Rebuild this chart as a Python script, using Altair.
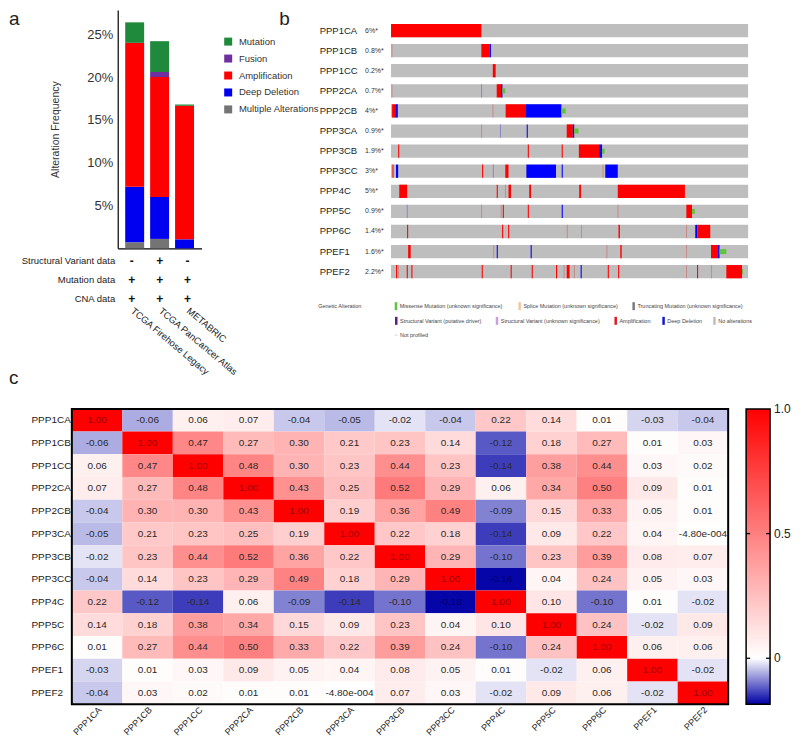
import altair as alt
import pandas as pd

FONT = "Liberation Sans"

# ---------------- Panel a data ----------------
datasets = ["TCGA Firehose Legacy", "TCGA PanCancer Atlas", "METABRIC"]
stack_types = ["Multiple Alterations", "Deep Deletion", "Amplification", "Fusion", "Mutation"]
freq_multiple = [0.7, 1.1, 0.0]
freq_deep_deletion = [6.5, 4.9, 1.05]
freq_amplification = [16.8, 14.0, 15.6]
freq_fusion = [0.0, 0.6, 0.0]
freq_mutation = [2.4, 3.6, 0.15]
legend_types = ["Mutation", "Fusion", "Amplification", "Deep Deletion", "Multiple Alterations"]
legend_colors = ["#1f8a3b", "#6f2f9f", "#ff0000", "#0000f0", "#747474"]

table_rows = ["Structural Variant data", "Mutation data", "CNA data"]
sv_data = ["-", "+", "-"]
mutation_data = ["+", "+", "+"]
cna_data = ["+", "+", "+"]

# ---------------- Panel b data ----------------
onco_genes = ["PPP1CA", "PPP1CB", "PPP1CC", "PPP2CA", "PPP2CB", "PPP3CA", "PPP3CB",
              "PPP3CC", "PPP4C", "PPP5C", "PPP6C", "PPEF1", "PPEF2"]
onco_pct = ["6%*", "0.8%*", "0.2%*", "0.7%*", "4%*", "0.9%*", "1.9%*", "3%*", "5%*",
            "0.9%*", "1.4%*", "1.6%*", "2.2%*"]
# alteration segments per gene: (start sample, end sample, type); 1000 samples per track
# A = amplification, D = deep deletion, M = missense mutation, a / d = faint (other) marks
alt_PPP1CA = [(0, 253, "A")]
alt_PPP1CB = [(1, 4, "a"), (253, 276, "A"), (276, 280, "D")]
alt_PPP1CC = [(285, 293, "A")]
alt_PPP2CA = [(1, 4, "a"), (252, 255, "d"), (296, 308, "A"), (308, 312, "D"), (312, 320, "M")]
alt_PPP2CB = [(3, 12, "A"), (12, 19, "D"), (284, 287, "a"), (321, 378, "A"), (378, 477, "D"),
              (477, 489, "M")]
alt_PPP3CA = [(252, 255, "a"), (305, 308, "d"), (380, 383, "D"), (492, 509, "A"), (509, 513, "D"),
              (513, 525, "M")]
alt_PPP3CB = [(20, 23, "A"), (383, 386, "A"), (478, 481, "A"), (526, 583, "A"), (583, 591, "D"),
              (591, 598, "M")]
alt_PPP3CC = [(4, 7, "A"), (14, 20, "D"), (255, 258, "A"), (285, 288, "d"), (320, 329, "A"),
              (379, 462, "D"), (478, 481, "D"), (592, 595, "a"), (600, 635, "D")]
alt_PPP4C = [(23, 45, "A"), (296, 299, "A"), (319, 322, "a"), (329, 336, "A"), (387, 392, "A"),
             (527, 532, "A"), (635, 823, "A")]
alt_PPP5C = [(44, 47, "d"), (252, 255, "a"), (307, 310, "a"), (313, 316, "A"), (383, 386, "A"),
             (478, 481, "D"), (634, 637, "a"), (827, 843, "A"), (843, 851, "M")]
alt_PPP6C = [(45, 48, "A"), (311, 314, "A"), (328, 331, "A"), (492, 495, "a"), (532, 535, "a"),
             (637, 641, "A"), (826, 829, "a"), (852, 858, "D"), (858, 894, "A")]
alt_PPEF1 = [(48, 55, "A"), (286, 289, "a"), (296, 299, "D"), (391, 394, "D"), (603, 606, "a"),
             (642, 646, "A"), (826, 829, "a"), (896, 916, "A"), (916, 920, "D"), (920, 939, "M")]
alt_PPEF2 = [(14, 17, "A"), (19, 22, "a"), (44, 47, "A"), (57, 60, "A"), (254, 257, "A"),
             (335, 338, "A"), (394, 397, "A"), (462, 465, "A"), (483, 486, "a"), (492, 500, "A"),
             (512, 515, "a"), (531, 534, "D"), (607, 610, "A"), (636, 639, "A"), (826, 829, "a"),
             (857, 860, "A"), (896, 899, "a"), (939, 983, "A"), (983, 986, "M")]
onco_alts = [alt_PPP1CA, alt_PPP1CB, alt_PPP1CC, alt_PPP2CA, alt_PPP2CB, alt_PPP3CA, alt_PPP3CB,
             alt_PPP3CC, alt_PPP4C, alt_PPP5C, alt_PPP6C, alt_PPEF1, alt_PPEF2]
onco_types = ["A", "D", "a", "d"]
onco_type_colors = ["#ff0000", "#0000ff", "#c98a8a", "#8a8ac9"]

onco_legend_labels = ["Missense Mutation (unknown significance)", "Splice Mutation (unknown significance)",
                      "Truncating Mutation (unknown significance)", "Structural Variant (putative driver)",
                      "Structural Variant (unknown significance)", "Amplification", "Deep Deletion",
                      "No alterations", "Not profiled"]
onco_legend_colors = ["#5cc43e", "#f0c89a", "#7a7a7a", "#5b1d8f", "#c9a0dc", "#e31a1c",
                      "#1515d0", "#bebebe", "#d8d8d8"]

# ---------------- Panel c data ----------------
heat_genes = onco_genes
corr = [
    [1.00, -0.06, 0.06, 0.07, -0.04, -0.05, -0.02, -0.04, 0.22, 0.14, 0.01, -0.03, -0.04],
    [-0.06, 1.00, 0.47, 0.27, 0.30, 0.21, 0.23, 0.14, -0.12, 0.18, 0.27, 0.01, 0.03],
    [0.06, 0.47, 1.00, 0.48, 0.30, 0.23, 0.44, 0.23, -0.14, 0.38, 0.44, 0.03, 0.02],
    [0.07, 0.27, 0.48, 1.00, 0.43, 0.25, 0.52, 0.29, 0.06, 0.34, 0.50, 0.09, 0.01],
    [-0.04, 0.30, 0.30, 0.43, 1.00, 0.19, 0.36, 0.49, -0.09, 0.15, 0.33, 0.05, 0.01],
    [-0.05, 0.21, 0.23, 0.25, 0.19, 1.00, 0.22, 0.18, -0.14, 0.09, 0.22, 0.04, -0.00048],
    [-0.02, 0.23, 0.44, 0.52, 0.36, 0.22, 1.00, 0.29, -0.10, 0.23, 0.39, 0.08, 0.07],
    [-0.04, 0.14, 0.23, 0.29, 0.49, 0.18, 0.29, 1.00, -0.18, 0.04, 0.24, 0.05, 0.03],
    [0.22, -0.12, -0.14, 0.06, -0.09, -0.14, -0.10, -0.18, 1.00, 0.10, -0.10, 0.01, -0.02],
    [0.14, 0.18, 0.38, 0.34, 0.15, 0.09, 0.23, 0.04, 0.10, 1.00, 0.24, -0.02, 0.09],
    [0.01, 0.27, 0.44, 0.50, 0.33, 0.22, 0.39, 0.24, -0.10, 0.24, 1.00, 0.06, 0.06],
    [-0.03, 0.01, 0.03, 0.09, 0.05, 0.04, 0.08, 0.05, 0.01, -0.02, 0.06, 1.00, -0.02],
    [-0.04, 0.03, 0.02, 0.01, 0.01, -0.00048, 0.07, 0.03, -0.02, 0.09, 0.06, -0.02, 1.00],
]
colorbar_ticks = [0, 0.5, 1.0]
colorbar_tick_labels = ["0", "0.5", "1.0"]
colorbar_marks = [0, 0.5]
colorbar_domain = [-0.184, 0, 1]
colorbar_colors = ["#0000a6", "#ffffff", "#ff0000"]

# ================= Panel a =================
series = [freq_multiple, freq_deep_deletion, freq_amplification, freq_fusion, freq_mutation]
bar_rows = []
for i, d in enumerate(datasets):
    for k, t in enumerate(stack_types):
        bar_rows.append({"dataset": d, "type": t, "freq": series[k][i] / 100, "order": k})
bar_df = pd.DataFrame(bar_rows)

x_band = alt.Scale(domain=datasets, paddingInner=0.24, paddingOuter=0.3)

bars = alt.Chart(bar_df).mark_bar().encode(
    x=alt.X("dataset:N", scale=x_band,
            axis=alt.Axis(labels=False, ticks=False, title=None, domainColor="#000", domainWidth=1.2)),
    y=alt.Y("freq:Q", stack="zero", scale=alt.Scale(domain=[0, 0.2785], nice=False),
            axis=alt.Axis(values=[0.05, 0.10, 0.15, 0.20, 0.25], format=".0%", grid=False,
                          ticks=False, domainColor="#000", domainWidth=1.2, labelFontSize=13,
                          labelColor="#333", labelPadding=5, title="Alteration Frequency",
                          titleFontSize=10.5, titleFontWeight="normal", titleColor="#333",
                          titlePadding=26)),
    color=alt.Color("type:N", scale=alt.Scale(domain=legend_types, range=legend_colors),
                    legend=alt.Legend(title=None, orient="none", legendX=106, legendY=27,
                                      symbolType="square", symbolSize=64, symbolStrokeWidth=0,
                                      labelFontSize=9.5, labelColor="#333", rowPadding=6,
                                      labelOffset=6, padding=0)),
    order=alt.Order("order:Q"),
)

def letter(ch, px, py):
    return alt.Chart(pd.DataFrame({"t": [ch]})).mark_text(
        align="left", baseline="top", fontSize=19, color="#222").encode(
        x=alt.value(px), y=alt.value(py), text="t:N")

bar_panel = alt.layer(bars, letter("a", -109, 0), letter("b", 162, 0)).properties(width=84, height=239)

tab_rows = []
for r, signs in zip(table_rows, [sv_data, mutation_data, cna_data]):
    for d, s in zip(datasets, signs):
        tab_rows.append({"row": r, "dataset": d, "sign": s})
tab_df = pd.DataFrame(tab_rows)

table_text = alt.Chart(tab_df).mark_text(fontSize=12, fontWeight="bold", color="#111").encode(
    x=alt.X("dataset:N", scale=x_band,
            axis=alt.Axis(orient="bottom", labelAngle=40, labelAlign="left", labelBaseline="middle",
                          labelPadding=1, labelFontSize=9.5, labelColor="#222", domain=False,
                          ticks=False, title=None)),
    y=alt.Y("row:N", sort=table_rows, scale=alt.Scale(paddingInner=0, paddingOuter=0),
            axis=alt.Axis(domain=False, ticks=False, title=None, labelFontSize=9.5,
                          labelPadding=3, labelColor="#222")),
    text="sign:N",
)
table = alt.layer(table_text, letter("c", -109, 118)).properties(width=84, height=57)

panel_a = alt.vconcat(bar_panel, table, spacing=1)

# ================= Panel b =================
track_df = pd.DataFrame({"gene": onco_genes, "start": [0] * len(onco_genes),
                         "end": [1000] * len(onco_genes), "pct": onco_pct})
seg_rows = []
for g, segs in zip(onco_genes, onco_alts):
    for s, e, t in segs:
        seg_rows.append({"gene": g, "start": s, "end": e, "type": t})
seg_df = pd.DataFrame(seg_rows)

y_onco = alt.Y("gene:N", sort=onco_genes,
               scale=alt.Scale(range=[10.6, 272.5], paddingInner=0.34, paddingOuter=0.17),
               axis=alt.Axis(labelAlign="left", labelPadding=72, domain=False, ticks=False,
                             title=None, labelFontSize=9.5, labelColor="#222"))
x_onco = alt.X("start:Q", scale=alt.Scale(domain=[0, 1000], nice=False, zero=False), axis=None)

tracks = alt.Chart(track_df).mark_bar(color="#bebebe").encode(x=x_onco, x2="end:Q", y=y_onco)
cna = alt.Chart(seg_df).transform_filter(
    alt.FieldOneOfPredicate(field="type", oneOf=onco_types)).mark_bar().encode(
    x=x_onco, x2="end:Q", y=y_onco,
    color=alt.Color("type:N", scale=alt.Scale(domain=onco_types, range=onco_type_colors), legend=None))
muts = alt.Chart(seg_df).transform_filter(alt.datum.type == "M").mark_bar(size=5, color="#5cc43e").encode(
    x=x_onco, x2="end:Q", y=y_onco)
pct_text = alt.Chart(track_df).mark_text(align="left", baseline="middle", fontSize=7, color="#333").encode(
    x=alt.value(-26), y=y_onco, text="pct:N")

onco_main = alt.layer(tracks, cna, muts, pct_text)

# legend of the oncoprint (layout positions in pixels)
leg_x = [3.7, 127.7, 242, 4, 105, 224, 272, 323, 4]
leg_row = [0, 0, 0, 1, 1, 1, 1, 1, 2]
row_y = [297, 311.7, 326]
leg_rows = []
for lab, lx, r in zip(onco_legend_labels, leg_x, leg_row):
    h = 0.6 if lab == "Not profiled" else 4
    leg_rows.append({"label": lab, "x": lx, "x2": lx + 2.5, "tx": lx + 5,
                     "y": row_y[r] - h, "y2": row_y[r] + h, "ty": row_y[r]})
leg_df = pd.DataFrame(leg_rows)
title_df = pd.DataFrame({"label": ["Genetic Alteration"], "tx": [-73], "ty": [row_y[0]]})

px_x = alt.Scale(domain=[0, 358], range=[0, 358], zero=False, nice=False)
px_y = alt.Scale(domain=[0, 335], range=[0, 335], zero=False, nice=False)

leg_sw = alt.Chart(leg_df).mark_rect().encode(
    x=alt.X("x:Q", scale=px_x, axis=None), x2="x2:Q",
    y=alt.Y("y:Q", scale=px_y, axis=None), y2="y2:Q",
    color=alt.Color("label:N", scale=alt.Scale(domain=onco_legend_labels, range=onco_legend_colors),
                    legend=None))
leg_tx = alt.Chart(leg_df).mark_text(align="left", baseline="middle", fontSize=5.5, color="#444").encode(
    x=alt.X("tx:Q", scale=px_x, axis=None), y=alt.Y("ty:Q", scale=px_y, axis=None), text="label:N")
leg_title = alt.Chart(title_df).mark_text(align="left", baseline="middle", fontSize=5.5, color="#444").encode(
    x=alt.X("tx:Q", scale=px_x, axis=None), y=alt.Y("ty:Q", scale=px_y, axis=None), text="label:N")
onco_leg = alt.layer(leg_sw, leg_tx, leg_title)

panel_b = alt.layer(onco_main, onco_leg).resolve_scale(
    x="independent", y="independent", color="independent").properties(width=358, height=335)

# ================= Panel c =================
def fmt(v):
    if v != 0 and abs(v) < 0.005:
        m, e = f"{v:.2e}".split("e")
        return f"{m}e{int(e):04d}"
    return f"{v:.2f}"

heat_rows = []
for i, rg in enumerate(heat_genes):
    for j, cg in enumerate(heat_genes):
        v = corr[i][j]
        tc = "diag" if v >= 0.99 else ("neg" if v < -0.15 else "other")
        heat_rows.append({"row": rg, "col": cg, "value": v, "label": fmt(v), "tc": tc})
heat_df = pd.DataFrame(heat_rows)

HEAT_W = 612
HEAT_LEFT = -46  # the heat map starts left of this panel's origin
HEAT_H = 296
CBAR_X = 630
CBAR_W = 24

x_heat = alt.X("col:N", sort=heat_genes, scale=alt.Scale(range=[HEAT_LEFT, HEAT_W]),
               axis=alt.Axis(labelAngle=-45, labelAlign="right", labelBaseline="top", labelPadding=1,
                             ticks=False, domain=False, title=None, labelFontSize=9,
                             labelColor="#222"))
y_heat = alt.Y("row:N", sort=heat_genes,
               axis=alt.Axis(labelAlign="left", labelPadding=87, ticks=False, domain=False,
                             title=None, labelFontSize=10, labelColor="#222"))

cells = alt.Chart(heat_df).mark_rect().encode(
    x=x_heat, y=y_heat,
    color=alt.Color("value:Q",
                    scale=alt.Scale(domain=colorbar_domain, range=colorbar_colors, interpolate="rgb"),
                    legend=None))

text_layers = []
for key, col in [("other", "#2a2a2a"), ("diag", "#a00000"), ("neg", "#00006a")]:
    text_layers.append(
        alt.Chart(heat_df).transform_filter(alt.datum.tc == key).mark_text(fontSize=10, color=col).encode(
            x=x_heat, y=y_heat, text="label:N"))

frame = alt.Chart(pd.DataFrame({"f": [0]})).mark_rect(
    fill="transparent", stroke="#000", strokeWidth=2).encode(
    x=alt.value(HEAT_LEFT), x2=alt.value(HEAT_W), y=alt.value(0), y2=alt.value(HEAT_H))

# colour bar drawn as a gradient-filled rectangle, with its own value scale
zero_off = (0 - colorbar_domain[0]) / (colorbar_domain[-1] - colorbar_domain[0])
cbar_gradient = alt.LinearGradient(
    gradient="linear", x1=0, y1=1, x2=0, y2=0,
    stops=[alt.GradientStop(color=colorbar_colors[0], offset=0),
           alt.GradientStop(color=colorbar_colors[1], offset=zero_off),
           alt.GradientStop(color=colorbar_colors[2], offset=1)])
cbar_rect = alt.Chart(pd.DataFrame({"f": [0]})).mark_rect(
    color=cbar_gradient, stroke="#000", strokeWidth=1.5).encode(
    x=alt.value(CBAR_X), x2=alt.value(CBAR_X + CBAR_W), y=alt.value(0), y2=alt.value(HEAT_H))

cbar_scale = alt.Scale(domain=[colorbar_domain[0], colorbar_domain[-1]], range=[HEAT_H, 0],
                       nice=False, zero=False)
cbar_df = pd.DataFrame({"v": colorbar_marks})
cbar_y = alt.Y("v:Q", scale=cbar_scale, axis=None)
cbar_tick_l = alt.Chart(cbar_df).mark_rule(color="#000", strokeWidth=1.3).encode(
    x=alt.value(CBAR_X), x2=alt.value(CBAR_X + 4), y=cbar_y)
cbar_tick_r = alt.Chart(cbar_df).mark_rule(color="#000", strokeWidth=1.3).encode(
    x=alt.value(CBAR_X + CBAR_W - 4), x2=alt.value(CBAR_X + CBAR_W), y=cbar_y)
cbar_lab_df = pd.DataFrame({"v": colorbar_ticks, "lab": colorbar_tick_labels})
cbar_labels = alt.Chart(cbar_lab_df).mark_text(
    align="left", baseline="middle", fontSize=12, color="#222").encode(
    x=alt.value(CBAR_X + CBAR_W + 4), y=cbar_y, text="lab:N")

heat_main = alt.layer(cells, *text_layers, frame)
cbar = alt.layer(cbar_rect, cbar_tick_l, cbar_tick_r, cbar_labels)
panel_c = alt.layer(heat_main, cbar).resolve_scale(
    y="independent").properties(width=HEAT_W, height=HEAT_H)

top_row = alt.hconcat(panel_a, panel_b, spacing=26)
chart = alt.concat(top_row, panel_c, columns=1, align="none", spacing=13).properties(
    padding=0).configure(font=FONT).configure_view(stroke="transparent")

chart.save("out.html", embed_options={"renderer": "svg", "actions": False})
